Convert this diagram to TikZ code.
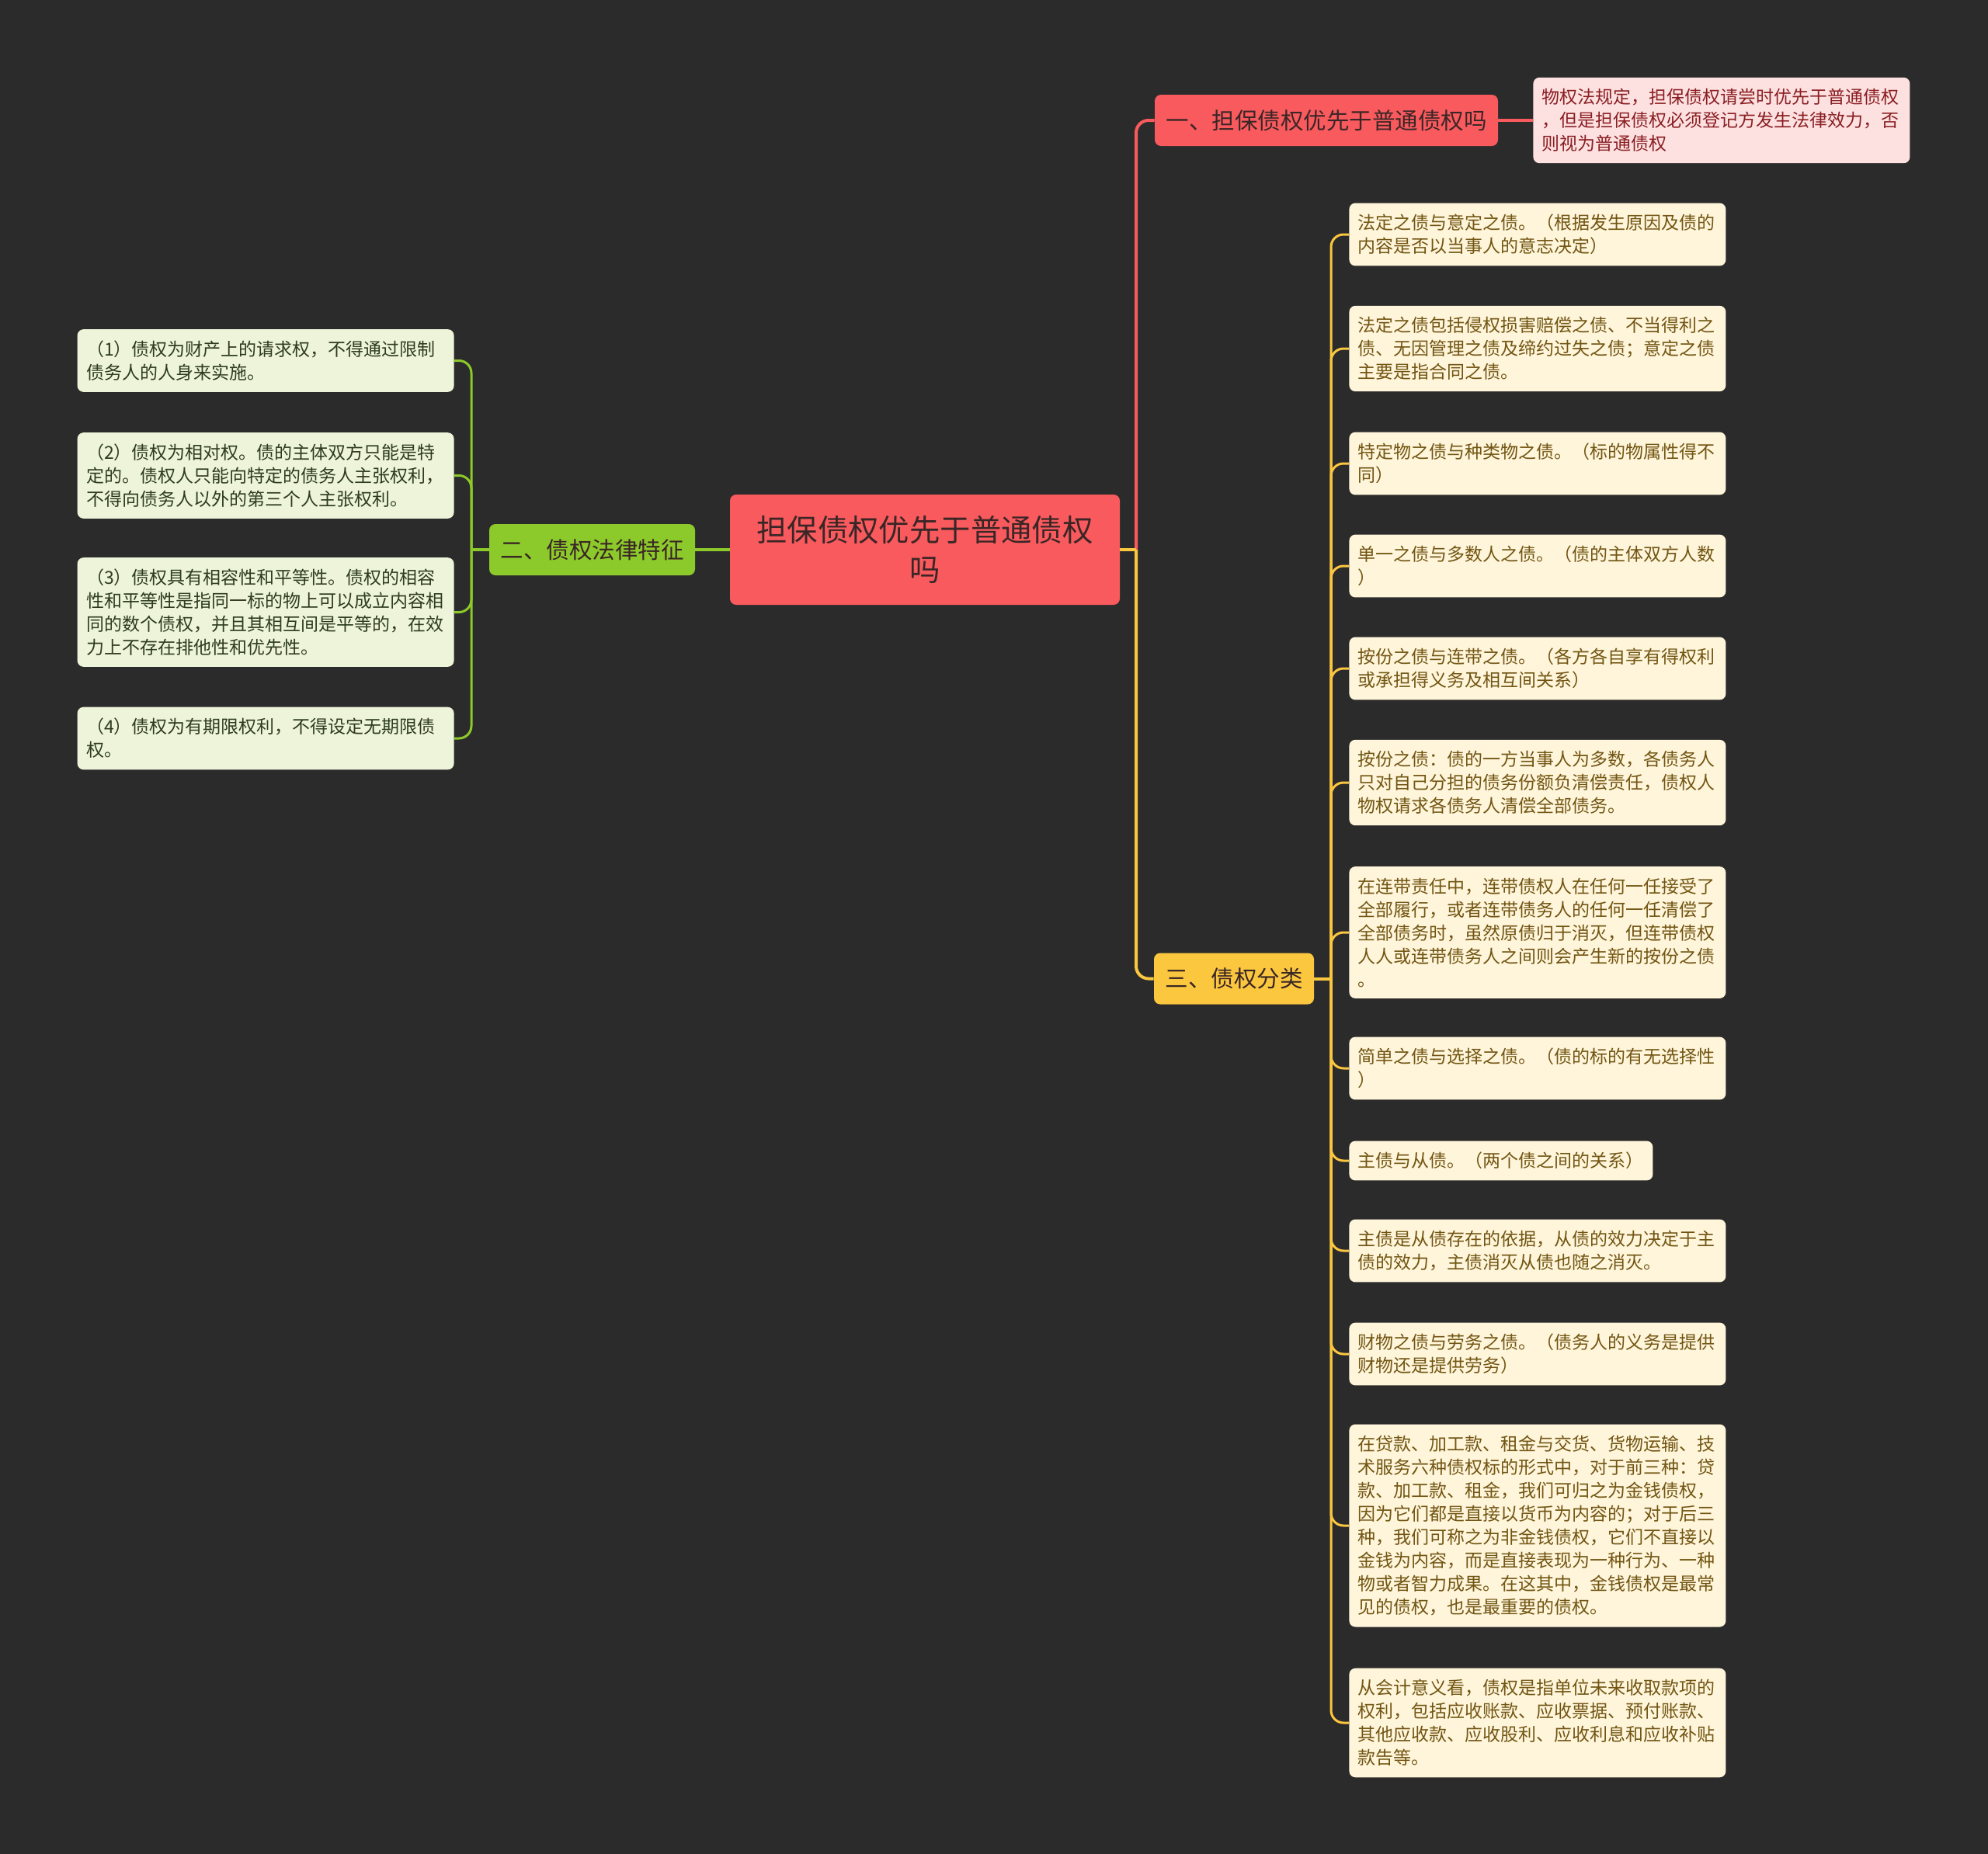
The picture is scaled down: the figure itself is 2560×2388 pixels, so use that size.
\documentclass[tikz,border=0pt]{standalone}
\usepackage{fontspec}
\newfontfamily\cjk{Noto Sans CJK SC}

\definecolor{bgc}{HTML}{2B2B2B}
\definecolor{redfill}{HTML}{F95A5E}
\definecolor{pinkfill}{HTML}{FDE1E1}
\definecolor{pinktext}{HTML}{8A1E22}
\definecolor{greenfill}{HTML}{8CC92A}
\definecolor{greenleaf}{HTML}{EDF4DA}
\definecolor{greentext}{HTML}{2E3B1E}
\definecolor{yellowfill}{HTML}{FBC73F}
\definecolor{yellowleaf}{HTML}{FEF5DA}
\definecolor{yellowtext}{HTML}{725513}
\definecolor{darktext}{HTML}{3A2626}

\tikzset{
  rootbox/.style={fill=redfill, rounded corners=4pt, minimum width=251pt,
    minimum height=71pt, align=center, text=darktext,
    font=\cjk\fontsize{19.7}{25.3}\selectfont},
  branchbox/.style={rounded corners=4pt, minimum height=33pt, inner xsep=7.25pt,
    text=darktext, font=\cjk\fontsize{14.75}{18}\selectfont},
  leafbox/.style={rounded corners=4pt, inner xsep=5.75pt, inner ysep=7.25pt,
    align=left, font=\cjk\fontsize{11.5}{15}\selectfont},
  wideleaf/.style={leafbox, text width=231pt},
  yleaf/.style={wideleaf, fill=yellowleaf, text=yellowtext, anchor=west},
  gleaf/.style={wideleaf, fill=greenleaf, text=greentext, anchor=east},
  link/.style={line width=2pt},
  leaflink/.style={line width=1.5pt, rounded corners=8pt},
}

\begin{document}
\begin{tikzpicture}[x=0.5pt,y=-0.5pt]
  \fill[bgc] (0,0) rectangle (2560,2388);

  % centre and main branches
  \node[rootbox] (root) at (1191,708) {担保债权优先于普通债权\\吗};
  \node[branchbox, fill=redfill] (b1) at (1708,155) {一、担保债权优先于普通债权吗};
  \node[branchbox, fill=greenfill] (b2) at (762.5,708) {二、债权法律特征};
  \node[branchbox, fill=yellowfill] (b3) at (1589,1260.5) {三、债权分类};

  % branch one
  \node[wideleaf, fill=pinkfill, text=pinktext, anchor=west] (n1) at (1974,155)
    {物权法规定，担保债权请尝时优先于普通债权\\，但是担保债权必须登记方发生法律效力，否\\则视为普通债权};

  % branch two
  \node[gleaf] (g1) at (585,464.5) {（1）债权为财产上的请求权，不得通过限制\\债务人的人身来实施。};
  \node[gleaf] (g2) at (585,612.5) {（2）债权为相对权。债的主体双方只能是特\\定的。债权人只能向特定的债务人主张权利，\\不得向债务人以外的第三个人主张权利。};
  \node[gleaf] (g3) at (585,788.5) {（3）债权具有相容性和平等性。债权的相容\\性和平等性是指同一标的物上可以成立内容相\\同的数个债权，并且其相互间是平等的，在效\\力上不存在排他性和优先性。};
  \node[gleaf] (g4) at (585,951) {（4）债权为有期限权利，不得设定无期限债\\权。};

  % branch three
  \node[yleaf] (y1) at (1737,302) {法定之债与意定之债。（根据发生原因及债的\\内容是否以当事人的意志决定）};
  \node[yleaf] (y2) at (1737,449) {法定之债包括侵权损害赔偿之债、不当得利之\\债、无因管理之债及缔约过失之债；意定之债\\主要是指合同之债。};
  \node[yleaf] (y3) at (1737,597) {特定物之债与种类物之债。（标的物属性得不\\同）};
  \node[yleaf] (y4) at (1737,729) {单一之债与多数人之债。（债的主体双方人数\\）};
  \node[yleaf] (y5) at (1737,861) {按份之债与连带之债。（各方各自享有得权利\\或承担得义务及相互间关系）};
  \node[yleaf] (y6) at (1737,1008) {按份之债：债的一方当事人为多数，各债务人\\只对自己分担的债务份额负清偿责任，债权人\\物权请求各债务人清偿全部债务。};
  \node[yleaf] (y7) at (1737,1201) {在连带责任中，连带债权人在任何一任接受了\\全部履行，或者连带债务人的任何一任清偿了\\全部债务时，虽然原债归于消灭，但连带债权\\人人或连带债务人之间则会产生新的按份之债\\。};
  \node[yleaf] (y8) at (1737,1376) {简单之债与选择之债。（债的标的有无选择性\\）};
  \node[leafbox, fill=yellowleaf, text=yellowtext, anchor=west] (y9) at (1737,1495) {主债与从债。（两个债之间的关系）};
  \node[yleaf] (y10) at (1737,1611) {主债是从债存在的依据，从债的效力决定于主\\债的效力，主债消灭从债也随之消灭。};
  \node[yleaf] (y11) at (1737,1744) {财物之债与劳务之债。（债务人的义务是提供\\财物还是提供劳务）};
  \node[yleaf] (y12) at (1737,1965) {在贷款、加工款、租金与交货、货物运输、技\\术服务六种债权标的形式中，对于前三种：贷\\款、加工款、租金，我们可归之为金钱债权，\\因为它们都是直接以货币为内容的；对于后三\\种，我们可称之为非金钱债权，它们不直接以\\金钱为内容，而是直接表现为一种行为、一种\\物或者智力成果。在这其中，金钱债权是最常\\见的债权，也是最重要的债权。};
  \node[yleaf] (y13) at (1737,2219) {从会计意义看，债权是指单位未来收取款项的\\权利，包括应收账款、应收票据、预付账款、\\其他应收款、应收股利、应收利息和应收补贴\\款告等。};

  % connectors
  \coordinate (rfork) at (1463,708);
  \draw[link, redfill, rounded corners=8pt] (rfork) |- (b1.west);
  \draw[link, yellowfill] (root.east) -- (rfork);
  \draw[link, yellowfill, rounded corners=8pt] (rfork) |- (b3.west);
  \draw[link, redfill] (b1.east) -- (n1.west);

  \draw[link, greenfill] (root.west) -- (b2.east);
  \coordinate (gfork) at (607,708);
  \draw[link, greenfill] (b2.west) -- (gfork);
  \draw[leaflink, greenfill] (gfork) |- (g1.east);
  \draw[leaflink, greenfill] (gfork) |- (g2.east);
  \draw[leaflink, greenfill] (gfork) |- (g3.east);
  \draw[leaflink, greenfill] (gfork) |- (g4.east);

  \coordinate (yfork) at (1714,1260.5);
  \draw[link, yellowfill] (b3.east) -- (yfork);
  \draw[leaflink, yellowfill] (yfork) |- (y1.west);
  \draw[leaflink, yellowfill] (yfork) |- (y2.west);
  \draw[leaflink, yellowfill] (yfork) |- (y3.west);
  \draw[leaflink, yellowfill] (yfork) |- (y4.west);
  \draw[leaflink, yellowfill] (yfork) |- (y5.west);
  \draw[leaflink, yellowfill] (yfork) |- (y6.west);
  \draw[leaflink, yellowfill] (yfork) |- (y7.west);
  \draw[leaflink, yellowfill] (yfork) |- (y8.west);
  \draw[leaflink, yellowfill] (yfork) |- (y9.west);
  \draw[leaflink, yellowfill] (yfork) |- (y10.west);
  \draw[leaflink, yellowfill] (yfork) |- (y11.west);
  \draw[leaflink, yellowfill] (yfork) |- (y12.west);
  \draw[leaflink, yellowfill] (yfork) |- (y13.west);
\end{tikzpicture}
\end{document}
